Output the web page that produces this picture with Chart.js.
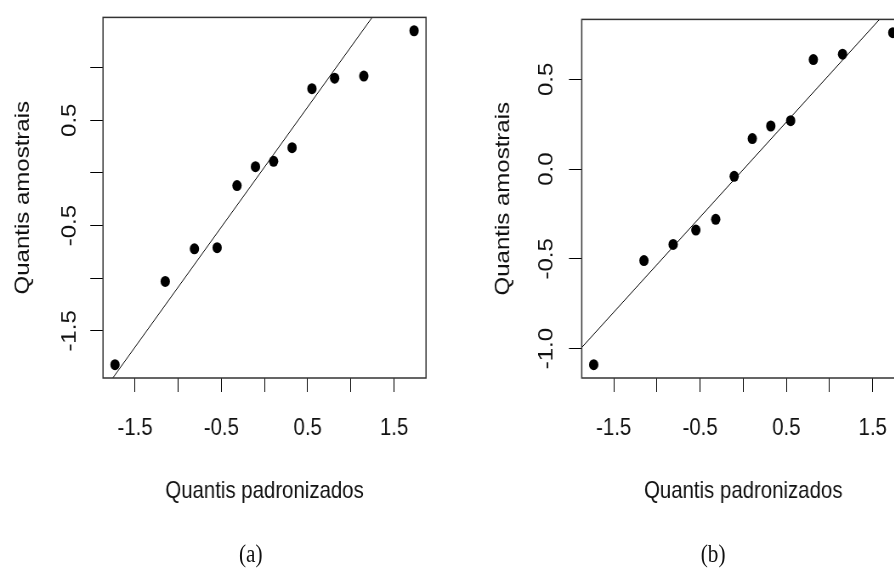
<!DOCTYPE html>
<html lang="pt">
<head>
<meta charset="utf-8">
<title>Gráficos de quantis</title>
<script src="https://cdn.jsdelivr.net/npm/chart.js@4.4.1/dist/chart.umd.min.js"></script>
<style>
  html, body { margin: 0; padding: 0; background: #fff; overflow: hidden; }
  /* the original figure is squeezed horizontally */
  #figura { position: relative; width: 1100px; height: 568px; transform: scaleX(0.85); transform-origin: 0 0; }
  #figura canvas { position: absolute; top: 0; }
  #grafico-a { left: 0; }
  #grafico-b { left: 560px; }
  .legenda { position: absolute; top: 539px; width: 60px; margin-left: -30px; line-height: 30px;
    text-align: center; font-size: 25px; font-family: 'Liberation Serif', 'Times New Roman', serif; color: #111; }
</style>
</head>
<body>
<div id="figura">
  <canvas id="grafico-a" width="540" height="568"></canvas>
  <canvas id="grafico-b" width="530" height="568"></canvas>
  <div class="legenda" style="left: 295px;">(a)</div>
  <div class="legenda" style="left: 839px;">(b)</div>
</div>
<script>
  'use strict';

  // Standardized (theoretical normal) quantiles, same for both panels.
  const quantisPadronizados = [ -1.732, -1.150, -0.812, -0.549, -0.319, -0.105, 0.105, 0.319, 0.549, 0.812, 1.150, 1.732 ];

  // Sample quantiles.
  const amostraA = [ -1.82, -1.03, -0.72, -0.71, -0.12, 0.06, 0.11, 0.24, 0.80, 0.90, 0.92, 1.35 ];
  const amostraB = [ -1.09, -0.51, -0.42, -0.34, -0.28, -0.04, 0.17, 0.24, 0.27, 0.61, 0.64, 0.76 ];

  // Tick positions and the labels that R actually printed.
  const ticksX = [ -1.5, -1, -0.5, 0, 0.5, 1, 1.5 ];
  const rotulosX = [ '-1.5', '-0.5', '0.5', '1.5' ];
  const ticksYA = [ -1.5, -1, -0.5, 0, 0.5, 1 ];
  const rotulosYA = [ '-1.5', '-0.5', '0.5' ];
  const ticksYB = [ -1, -0.5, 0, 0.5 ];
  const rotulosYB = [ '-1.0', '-0.5', '0.0', '0.5' ];

  const fonte = { family: "'Liberation Sans', Arial, sans-serif", size: 24 };
  const corTexto = '#111';

  // R-style axis range: data range extended by 4% on each side.
  function faixa( v ) {
    const min = Math.min( ...v );
    const max = Math.max( ...v );
    const d = ( max - min ) * 0.04;
    return [ min - d, max + d ];
  }

  // Type 7 quantile, as used by qqline().
  function quantil( v, p ) {
    const s = [ ...v ].sort( ( a, b ) => a - b );
    const h = ( s.length - 1 ) * p;
    const lo = Math.floor( h );
    return s[ lo ] + ( h - lo ) * ( s[ lo + 1 ] - s[ lo ] );
  }

  function retaQQ( y ) {
    const z = 0.6744897501960817;
    const q1 = quantil( y, 0.25 );
    const q3 = quantil( y, 0.75 );
    const inclinacao = ( q3 - q1 ) / ( 2 * z );
    return { inclinacao, intercepto: q1 + inclinacao * z };
  }

  // Box around the plotting region.
  const moldura = {
    id: 'moldura',
    afterDraw( chart ) {
      const { ctx, chartArea: a } = chart;
      ctx.save();
      ctx.strokeStyle = '#333';
      ctx.lineWidth = 1.5;
      ctx.strokeRect( a.left, a.top, a.right - a.left, a.bottom - a.top );
      ctx.restore();
    }
  };

  function criarGrafico( id, amostra, ticksY, rotulosY, geo ) {
    const fx = faixa( quantisPadronizados );
    const fy = faixa( amostra );
    const reta = retaQQ( amostra );

    const pontos = quantisPadronizados.map( ( x, i ) => ( { x: x, y: amostra[ i ] } ) );
    const linha = fx.map( ( x ) => ( { x: x, y: reta.intercepto + reta.inclinacao * x } ) );

    return new Chart( document.getElementById( id ), {
      type: 'scatter',
      data: {
        datasets: [
          {
            data: pontos,
            pointRadius: 5.5,
            pointHoverRadius: 5.5,
            pointBackgroundColor: '#000',
            pointBorderWidth: 0,
          },
          {
            data: linha,
            showLine: true,
            borderColor: '#000',
            borderWidth: 1,
            pointRadius: 0,
            pointHoverRadius: 0,
            fill: false,
          },
        ],
      },
      options: {
        responsive: false,
        animation: false,
        events: [],
        layout: { padding: { top: 13.3, right: geo.direita, bottom: 0, left: 0 } },
        plugins: {
          legend: { display: false },
          tooltip: { enabled: false },
        },
        scales: {
          x: {
            type: 'linear',
            position: 'bottom',
            min: fx[ 0 ],
            max: fx[ 1 ],
            afterBuildTicks: ( s ) => { s.ticks = ticksX.map( ( v ) => ( { value: v } ) ); },
            afterFit: ( s ) => { s.height = 190; },
            grid: { drawOnChartArea: false, drawTicks: true, tickLength: 14, color: '#000', lineWidth: 1 },
            border: { display: false },
            ticks: {
              autoSkip: false,
              minRotation: 0,
              maxRotation: 0,
              padding: 22,
              color: corTexto,
              font: fonte,
              callback: ( v ) => ( rotulosX.includes( v.toFixed( 1 ) ) ? v.toFixed( 1 ) : '' ),
            },
            title: {
              display: true,
              text: 'Quantis padronizados',
              color: corTexto,
              font: fonte,
              padding: { top: 0, bottom: 62 },
            },
          },
          y: {
            type: 'linear',
            position: 'left',
            min: fy[ 0 ],
            max: fy[ 1 ],
            afterBuildTicks: ( s ) => { s.ticks = ticksY.map( ( v ) => ( { value: v } ) ); },
            afterFit: ( s ) => { s.width = geo.eixoY; },
            grid: { drawOnChartArea: false, drawTicks: true, tickLength: 15, color: '#000', lineWidth: 1 },
            border: { display: false },
            ticks: {
              autoSkip: false,
              minRotation: 90,
              maxRotation: 90,
              crossAlign: 'center',
              padding: geo.padY,
              color: corTexto,
              font: fonte,
              callback: ( v ) => ( rotulosY.includes( v.toFixed( 1 ) ) ? v.toFixed( 1 ) : '' ),
            },
            title: {
              display: true,
              text: 'Quantis amostrais',
              color: corTexto,
              font: fonte,
              padding: { top: geo.tituloY, bottom: 0 },
            },
          },
        },
      },
      plugins: [ moldura ],
    } );
  }

  criarGrafico( 'grafico-a', amostraA, ticksYA, rotulosYA, { eixoY: 121.2, direita: 38.8, padY: 3, tituloY: 12.5 } );
  criarGrafico( 'grafico-b', amostraB, ticksYB, rotulosYB, { eixoY: 124.4, direita: 25.6, padY: 5, tituloY: 18 } );
</script>
</body>
</html>
